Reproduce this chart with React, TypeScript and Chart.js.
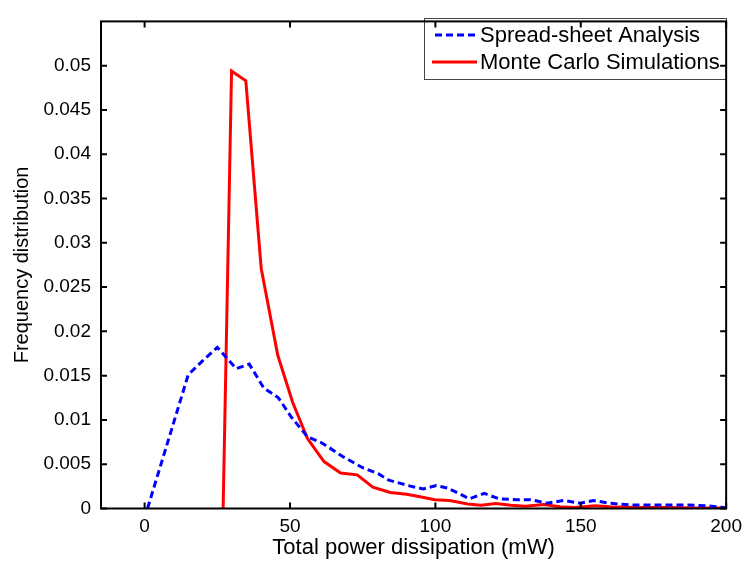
import React, { useEffect, useRef } from "react";
import { Chart, registerables } from "chart.js";

Chart.register(...registerables);

const seriesLabels = ["Spread-sheet Analysis", "Monte Carlo Simulations"];

const blueX = [1, 15, 20, 25, 31.5, 36, 41, 46, 50.5, 56, 61, 68, 75, 80.5, 84, 90.5, 95.8, 100.3, 104.3, 111.7, 116.8, 121.9, 128.2, 132.7, 138.4, 144.1, 149.8, 154.3, 160, 166.8, 173.6, 180.4, 187.2, 194, 199.5];
const blueY = [0, 0.0151, 0.0167, 0.0182, 0.0158, 0.0163, 0.0136, 0.0125, 0.0103, 0.0081, 0.0074, 0.0059, 0.0046, 0.0039, 0.0032, 0.0026, 0.0022, 0.0026, 0.0023, 0.0011, 0.0017, 0.0011, 0.001, 0.001, 0.0006, 0.0009, 0.0006, 0.0009, 0.0006, 0.0004, 0.0004, 0.0004, 0.0004, 0.0003, 0.0001];

const redX = [27, 29.9, 34.8, 40.1, 45.8, 50.9, 56, 61.7, 67.4, 73.1, 78.5, 84.5, 90.1, 95.2, 99.8, 104.9, 111.1, 115.7, 120.8, 125.9, 131, 137.3, 142.8, 148, 155, 160, 170, 180, 190, 200];
const redY = [0, 0.0494, 0.0483, 0.0271, 0.0173, 0.012, 0.0079, 0.0053, 0.004, 0.0038, 0.0024, 0.0018, 0.0016, 0.0013, 0.001, 0.0009, 0.0005, 0.00036, 0.00055, 0.00036, 0.00025, 0.00045, 0.0002, 0.00012, 0.0003, 0.0002, 0.0001, 0.0001, 0.00005, 0.00005];

const xTicks = [0, 50, 100, 150, 200];
const yTicks = [0, 0.005, 0.01, 0.015, 0.02, 0.025, 0.03, 0.035, 0.04, 0.045, 0.05];

const xTitle = "Total power dissipation (mW)";
const yTitle = "Frequency distribution";

const FONT = "'Liberation Sans', Arial, Helvetica, sans-serif";

const framePlugin = {
  id: "frameAndLegend",
  afterDatasetsDraw(chart: any) {
    const { ctx, chartArea: a, scales } = chart;
    ctx.save();
    // legend box
    const bx = 424, by = 18, bw = 302, bh = 61;
    ctx.fillStyle = "#fff";
    ctx.fillRect(bx, by, bw, bh);
    ctx.strokeStyle = "#444";
    ctx.lineWidth = 1;
    ctx.strokeRect(bx + 0.5, by + 0.5, bw, bh);
    const rows = [35, 62];
    chart.data.datasets.forEach((ds: any, i: number) => {
      const y = rows[i];
      ctx.strokeStyle = ds.borderColor;
      ctx.lineWidth = ds.borderWidth;
      ctx.setLineDash(ds.borderDash || []);
      ctx.beginPath();
      ctx.moveTo(i === 0 ? 435 : 432, y);
      ctx.lineTo(477, y);
      ctx.stroke();
      ctx.setLineDash([]);
      ctx.fillStyle = "#000";
      ctx.font = `22px ${FONT}`;
      ctx.textBaseline = "middle";
      ctx.textAlign = "left";
      ctx.fillText(ds.label, 480, y + 1);
    });
    // axes frame
    ctx.strokeStyle = "#000";
    ctx.lineWidth = 2;
    ctx.strokeRect(a.left, a.top, a.right - a.left, a.bottom - a.top);
    const tl = 6;
    ctx.beginPath();
    xTicks.forEach((v) => {
      const px = scales.x.getPixelForValue(v);
      ctx.moveTo(px, a.bottom);
      ctx.lineTo(px, a.bottom - tl);
      ctx.moveTo(px, a.top);
      ctx.lineTo(px, a.top + tl);
    });
    yTicks.forEach((v) => {
      const py = scales.y.getPixelForValue(v);
      ctx.moveTo(a.left, py);
      ctx.lineTo(a.left + tl, py);
      ctx.moveTo(a.right, py);
      ctx.lineTo(a.right - tl, py);
    });
    ctx.stroke();
    ctx.restore();
  },
};

export default function App() {
  const ref = useRef<HTMLCanvasElement | null>(null);
  useEffect(() => {
    if (!ref.current) return;
    const chart = new Chart(ref.current, {
      type: "line",
      data: {
        datasets: [
          {
            label: seriesLabels[0],
            data: blueX.map((x, i) => ({ x, y: blueY[i] })),
            borderColor: "#0000ff",
            borderWidth: 3,
            borderDash: [7, 4],
            pointRadius: 0,
            fill: false,
            tension: 0,
          },
          {
            label: seriesLabels[1],
            data: redX.map((x, i) => ({ x, y: redY[i] })),
            borderColor: "#ff0000",
            borderWidth: 3,
            pointRadius: 0,
            fill: false,
            tension: 0,
          },
        ],
      },
      options: {
        animation: false,
        responsive: false,
        devicePixelRatio: 1,
        layout: { padding: { top: 11, right: 19, left: 0, bottom: 0 } },
        plugins: { legend: { display: false }, tooltip: { enabled: false } },
        scales: {
          x: {
            type: "linear",
            min: -15,
            max: 200,
            afterBuildTicks: (s: any) => {
              s.ticks = xTicks.map((v) => ({ value: v }));
            },
            afterFit: (s: any) => {
              s.height = 52.5;
            },
            grid: { display: false, drawTicks: false },
            border: { display: false },
            ticks: {
              color: "#000",
              font: { family: FONT, size: 19 },
              padding: 7,
              maxRotation: 0,
              autoSkip: false,
              callback: (v: any) => String(v),
            },
            title: {
              display: true,
              text: xTitle,
              color: "#000",
              font: { family: FONT, size: 22 },
              padding: 0,
            },
          },
          y: {
            type: "linear",
            min: 0,
            max: 0.055,
            afterBuildTicks: (s: any) => {
              s.ticks = yTicks.map((v) => ({ value: v }));
            },
            afterFit: (s: any) => {
              s.width = 101;
            },
            grid: { display: false, drawTicks: false },
            border: { display: false },
            ticks: {
              color: "#000",
              font: { family: FONT, size: 19 },
              padding: 10,
              autoSkip: false,
              callback: (v: any) => String(Number(Number(v).toFixed(3))),
            },
            title: {
              display: true,
              text: yTitle,
              color: "#000",
              font: { family: FONT, size: 20 },
              padding: { top: 10, bottom: 0 },
            },
          },
        },
      },
      plugins: [framePlugin],
    } as any);
    return () => chart.destroy();
  }, []);
  return (
    <div style={{ position: "fixed", left: 0, top: 0, width: 749, height: 561, background: "#fff" }}>
      <canvas ref={ref} width={749} height={561} style={{ display: "block" }} />
    </div>
  );
}
